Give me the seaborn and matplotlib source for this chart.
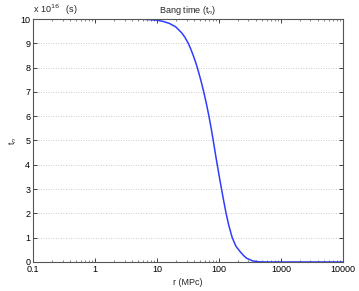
import numpy as np
import pandas as pd
import matplotlib
matplotlib.use("Agg")
import matplotlib.pyplot as plt
import seaborn as sns
from matplotlib.ticker import LogLocator, FixedLocator, FixedFormatter, NullFormatter

r_mpc = [1, 3, 6, 10, 12.6, 15.8, 20, 25.1, 28.2, 32, 35.3, 38.5, 41.7, 44.8, 50.8, 56.9,
         63, 69, 75, 81, 87.1, 94, 101.6, 110.2, 119.7, 130.6, 144.5, 164, 188, 219, 251,
         282, 355, 457, 600, 1000, 3000, 10000]
t_n = [10, 9.998, 9.99, 9.95, 9.90, 9.82, 9.68, 9.43, 9.25, 9.0, 8.75, 8.5, 8.25, 8.0, 7.5, 7.0,
       6.5, 6.0, 5.5, 5.0, 4.5, 4.0, 3.5, 3.0, 2.5, 2.0, 1.5, 1.0, 0.65, 0.43, 0.26,
       0.15, 0.04, 0.005, 0.0, 0.0, 0.0, 0.0]

x_ticks = [0.1, 1, 10, 100, 1000, 10000]
x_labels = ["0.1", "1", "10", "100", "1000", "10000"]
y_ticks = list(range(0, 11))

sns.set_theme(style="white")
plt.rcParams['font.family'] = ['Liberation Sans', 'DejaVu Sans']

fig = plt.figure(figsize=(3.59, 2.91), dpi=100)
ax = fig.add_axes([0.092, 0.0997, 0.863, 0.835])

df = pd.DataFrame({"r": r_mpc, "t": t_n})
sns.lineplot(data=df, x="r", y="t", ax=ax, color="#2e3dff", linewidth=1.1)

ax.set_xscale("log")
ax.set_xlim(0.1, 10000)
ax.set_ylim(0, 10)
ax.xaxis.set_major_locator(FixedLocator(x_ticks))
ax.xaxis.set_major_formatter(FixedFormatter(x_labels))
ax.xaxis.set_minor_locator(LogLocator(base=10, subs=np.arange(2, 10), numticks=20))
ax.xaxis.set_minor_formatter(NullFormatter())
ax.set_yticks(y_ticks)

for s in ax.spines.values():
    s.set_color("#555555")
    s.set_linewidth(0.8)

ax.tick_params(axis="both", which="major", direction="in", length=3, width=0.6,
               top=True, right=True, bottom=True, left=True, labelsize=6.5,
               colors="#222222", pad=2)
ax.tick_params(axis="x", which="minor", direction="in", length=1.6, width=0.5,
               top=True, bottom=True, color="#555555")
for lab in ax.get_xticklabels() + ax.get_yticklabels():
    lab.set_color("black")

ax.yaxis.grid(True, linestyle=(0, (1, 2)), color="#bbbbbb", linewidth=0.6)
ax.xaxis.grid(False)

ax.set_xlabel("r (MPc)", fontsize=6.5, labelpad=3)
ax.set_ylabel("t$_n$", fontsize=6.5, labelpad=1)
ax.set_title("Bang time (t$_n$)", fontsize=6.5, pad=4)
ax.text(0.0, 1.01, r"x 10$^{16}$   (s)", transform=ax.transAxes, fontsize=6.5,
        ha="left", va="bottom")

fig.savefig("out.png", dpi=100)
